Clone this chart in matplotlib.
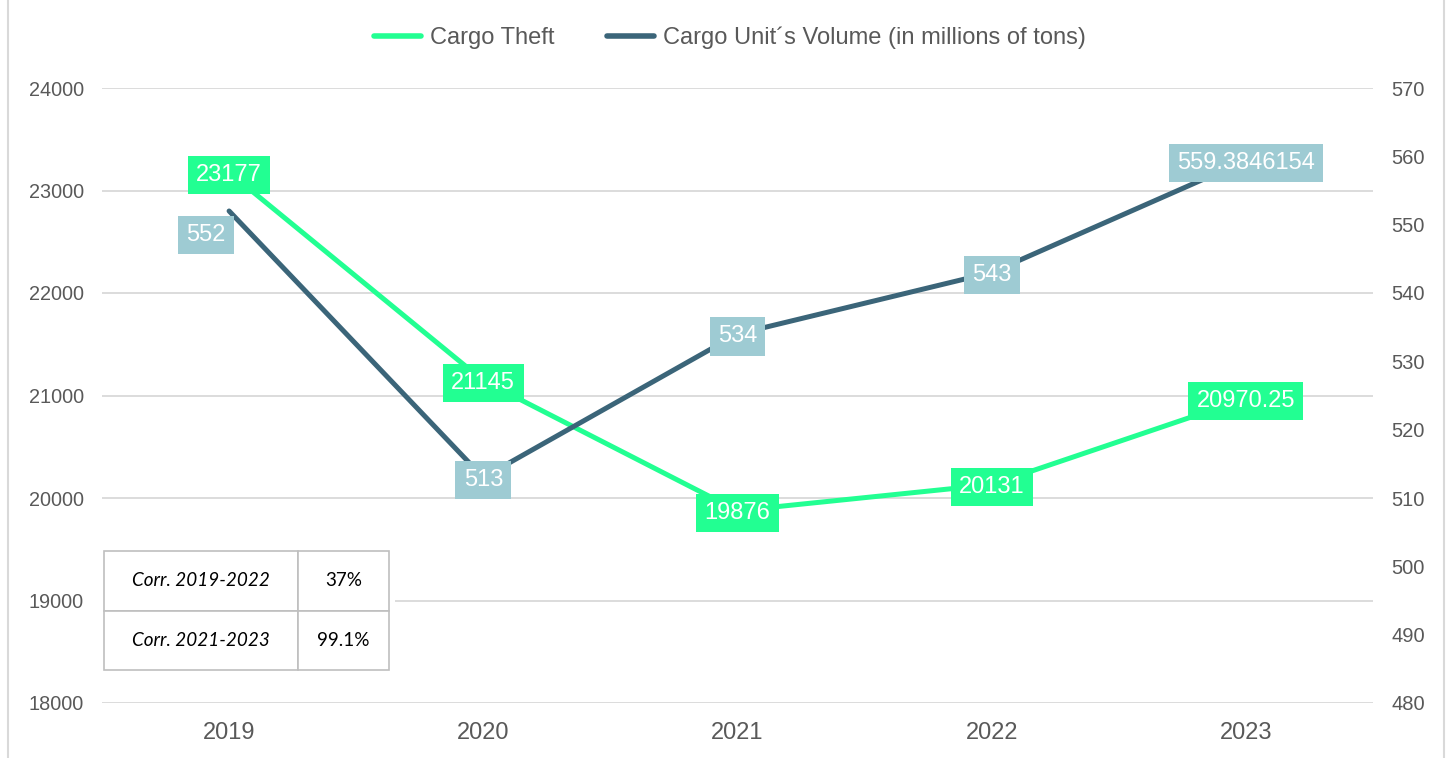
import matplotlib
matplotlib.use("Agg")
import matplotlib.pyplot as plt
from matplotlib.patches import Rectangle
from matplotlib.lines import Line2D

years = ["2019", "2020", "2021", "2022", "2023"]
cargo_theft = [23177, 21145, 19876, 20131, 20970.25]
cargo_volume = [552, 513, 534, 543, 559.3846154]
theft_labels = ["23177", "21145", "19876", "20131", "20970.25"]
volume_labels = ["552", "513", "534", "543", "559.3846154"]
left_ticks = [18000, 19000, 20000, 21000, 22000, 23000, 24000]
right_ticks = [480, 490, 500, 510, 520, 530, 540, 550, 560, 570]
table_rows = [["Corr. 2019-2022", "37%"], ["Corr. 2021-2023", "99.1%"]]

GREEN = "#22FF92"
DARK = "#3B6579"
LIGHTBLUE = "#9ECBD3"
TXT = "#595959"
GRID = "#D9D9D9"

plt.rcParams['font.family'] = ['Liberation Sans', 'DejaVu Sans']

fig = plt.figure(figsize=(14.49, 7.58), dpi=100)
ax = fig.add_axes([102/1449, 1-703/758, 1271/1449, 615/758])
ax2 = ax.twinx()

x = list(range(len(years)))
ax.set_xlim(-0.5, len(years)-0.5)
ax.set_ylim(18000, 24000)
ax2.set_ylim(480, 570)
ax.set_yticks(left_ticks)
ax2.set_yticks(right_ticks)
ax.set_xticks(x)
ax.set_xticklabels(years)

ax.grid(axis='y', color=GRID, linewidth=1.3)
ax.set_axisbelow(True)
for a in (ax, ax2):
    for s in a.spines.values():
        s.set_visible(False)
    a.tick_params(length=0)
ax.tick_params(axis='y', labelsize=14.3, labelcolor=TXT, pad=13)
ax.tick_params(axis='x', labelsize=17, labelcolor=TXT, pad=14)
ax2.tick_params(axis='y', labelsize=14.5, labelcolor=TXT, pad=13)

ax.plot(x, cargo_theft, color=GREEN, linewidth=3.6, solid_capstyle='round', zorder=3)
ax2.plot(x, cargo_volume, color=DARK, linewidth=3.6, solid_capstyle='round', zorder=3)

# labels (on ax2 so they are drawn on top)
for i, (v, t) in enumerate(zip(cargo_theft, theft_labels)):
    ax2.annotate(t, (x[i], v), xycoords=ax.transData, ha='center', va='center_baseline',
                 fontsize=17, color='white', zorder=6,
                 bbox=dict(boxstyle='square,pad=0.35', fc=GREEN, ec='none'))
for i, (v, t) in enumerate(zip(cargo_volume, volume_labels)):
    off = (-16.5, -15.5) if i == 0 else (0, 0)
    ax2.annotate(t, (x[i], v), xytext=off, textcoords='offset points',
                 ha='center', va='center_baseline', fontsize=17, color='white', zorder=6,
                 bbox=dict(boxstyle='square,pad=0.35', fc=LIGHTBLUE, ec='none'))

# white mask behind the table
mask = Rectangle((0, (703-676)/615), (395-102)/1271, (676-545)/615,
                 transform=ax2.transAxes, fc='white', ec='none', zorder=4)
ax2.add_patch(mask)
tbl = ax2.table(cellText=table_rows, colWidths=[0.68, 0.32], cellLoc='center',
                bbox=[2/1271, (703-670)/615, 285/1271, 119/615], zorder=5)
tbl.auto_set_font_size(False)
for (r, c), cell in tbl.get_celld().items():
    cell.set_edgecolor("#BFBFBF")
    cell.set_linewidth(1.2)
    cell.set_facecolor('white')
    txt = cell.get_text()
    txt.set_fontsize(13.6)
    txt.set_color('black')
    txt.set_fontfamily('Lato')
    if c == 0:
        txt.set_fontstyle('italic')
tbl.set_zorder(5)

# legend
handles = [Line2D([], [], color=GREEN, linewidth=4, solid_capstyle='round'),
           Line2D([], [], color=DARK, linewidth=4, solid_capstyle='round')]
fig.legend(handles, ["Cargo Theft", "Cargo Unit\u00b4s Volume (in millions of tons)"],
           loc='center', bbox_to_anchor=(730/1449, 1-38/758), ncol=2, frameon=False,
           fontsize=17, labelcolor=TXT, handlelength=2.0, handletextpad=0.4,
           columnspacing=2.2)

# figure side borders
fig.add_artist(Line2D([7.5/1449, 7.5/1449], [0, 1], color=GRID, linewidth=1.5))
fig.add_artist(Line2D([1443.5/1449, 1443.5/1449], [0, 1], color=GRID, linewidth=1.5))

fig.savefig("out.png", dpi=100)
